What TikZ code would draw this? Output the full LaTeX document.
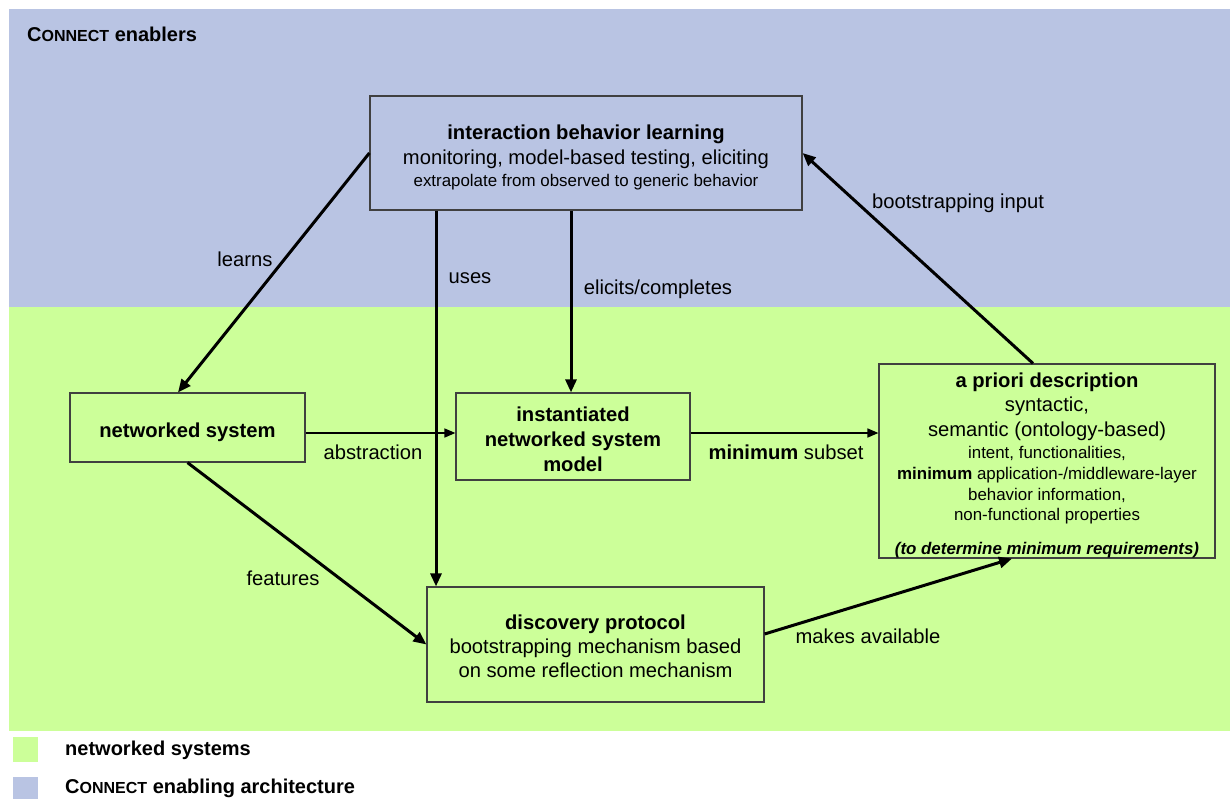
\documentclass[tikz,border=0pt]{standalone}
\usepackage{fontspec}
\setmainfont{Liberation Sans}
\usetikzlibrary{arrows.meta}
\definecolor{enblue}{RGB}{185,196,227}
\definecolor{nsgreen}{RGB}{204,255,153}
\definecolor{boxline}{RGB}{64,64,64}
\newcommand{\bigf}{\fontsize{20.2}{25}\selectfont}
\newcommand{\smallf}{\fontsize{16.9}{21}\selectfont}
\newcommand{\legf}{\fontsize{20}{24}\selectfont}
\newcommand{\connectsc}{C{\fontsize{16}{20}\selectfont ONNECT}}
\newcommand{\padtop}[1]{\rule{0pt}{#1}}
\begin{document}
\begin{tikzpicture}[x=1pt,y=-1pt,
  box/.style={draw=boxline, line width=1.2pt, align=center, inner sep=0pt, font=\bigf},
  arr/.style={-{Triangle[length=13pt,width=11pt]}, line width=3pt},
  thinarr/.style={-{Triangle[length=11pt,width=9pt]}, line width=1.6pt},
  lbl/.style={font=\bigf, inner sep=0pt},
  legtext/.style={font=\legf\bfseries, inner sep=0pt, anchor=west}]
\useasboundingbox (0,0) rectangle (1230,798);
% regions
\fill[enblue] (9,9) rectangle (1230,307);
\fill[nsgreen] (9,307) rectangle (1230,731);
\node[legtext] (hdr) at (27,34) {\connectsc{} enablers};
% boxes
\node[box, minimum width=432pt, minimum height=114pt] (top) at (586,153)
  {\padtop{22.5pt}{\bfseries interaction behavior learning}\\
   monitoring, model-based testing, eliciting\\[-3pt]
   {\smallf extrapolate from observed to generic behavior}};
\node[box, minimum width=235pt, minimum height=69pt, font=\bigf\bfseries] (ns) at (187.5,427.5)
  {\padtop{24.5pt}networked system};
\node[box, minimum width=234pt, minimum height=87pt, font=\bigf\bfseries] (inst) at (573,436.5)
  {\padtop{20pt}instantiated\\networked system\\model};
\node[box, minimum width=336pt, minimum height=192pt] (apr) at (1047,461)
  {\padtop{23.5pt}{\bfseries a priori description}\\[-1pt]
   syntactic,\\
   semantic (ontology-based)\\[-3pt]
   {\smallf intent, functionalities,}\\[-4pt]
   {\smallf\bfseries minimum}{\smallf{} application-/middleware-layer}\\[-4pt]
   {\smallf behavior information,}\\[-5pt]
   {\smallf non-functional properties}\\[9pt]
   {\smallf\bfseries\itshape (to determine minimum requirements)}};
\node[box, minimum width=337pt, minimum height=115pt] (disc) at (595.5,644.5)
  {\padtop{19pt}{\bfseries discovery protocol}\\[-1pt]
   bootstrapping mechanism based\\[-1pt]
   on some reflection mechanism};
% connectors
\draw[arr] (top.west) -- ([xshift=-9.5pt]ns.north);
\draw[arr] ([xshift=-150pt]top.south) -- ([xshift=-159.5pt]disc.north);
\draw[arr] ([xshift=-15pt]top.south) -- ([xshift=-2pt]inst.north);
\draw[arr] ([xshift=-14pt]apr.north) -- (top.east);
\draw[thinarr] ([yshift=-5.5pt]ns.east) -- ([yshift=-5.5pt]ns.east -| inst.west);
\draw[thinarr] ([yshift=3.5pt]inst.east) -- ([yshift=3.5pt]inst.east -| apr.west);
\draw[arr] (ns.south) -- (disc.west);
\draw[arr] ([yshift=10.5pt]disc.east) -- ([xshift=-35pt]apr.south);
% labels
\node[lbl] (l1) at (245,259) {learns};
\node[lbl] (l2) at (470,278) {uses};
\node[lbl] (l3) at (658,289) {elicits/completes};
\node[lbl] (l4) at (958,203) {bootstrapping input};
\node[lbl] (l5) at (373,452) {abstraction};
\node[lbl] (l6) at (786,452) {{\bfseries minimum} subset};
\node[lbl] (l7) at (283,578) {features};
\node[lbl] (l8) at (868,636) {makes available};
% legend
\fill[nsgreen] (13,737) rectangle (38,762);
\fill[enblue] (13,777) rectangle (38,802);
\node[legtext] (lg1) at (65,750) {networked systems};
\node[legtext] (lg2) at (65,788) {\connectsc{} enabling architecture};
\end{tikzpicture}
\end{document}
